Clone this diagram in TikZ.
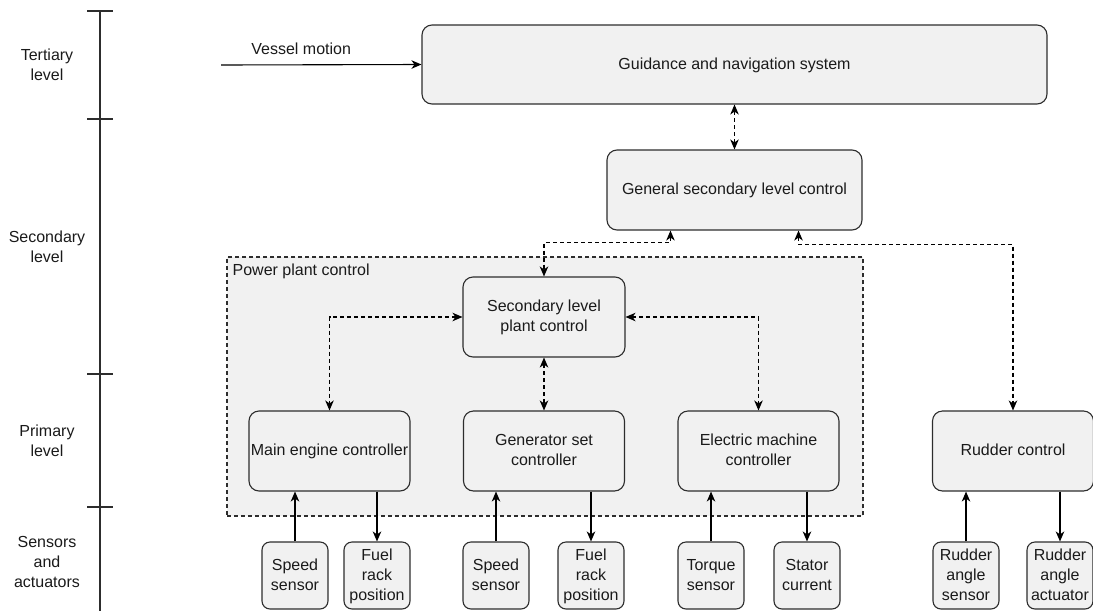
\documentclass[tikz,border=0pt]{standalone}
\usepackage{fontspec}
\setmainfont{Liberation Sans}
\usetikzlibrary{arrows.meta,positioning,calc}
\definecolor{boxgray}{RGB}{241,241,241}
\definecolor{edgegray}{RGB}{45,45,45}
\definecolor{txtgray}{RGB}{26,26,26}
\tikzset{
  blk/.style={draw=edgegray, line width=1.1pt, fill=boxgray, rounded corners=10pt, align=center, inner sep=0pt, text depth=2pt},
  sens/.style={blk, rounded corners=8pt, minimum width=66pt, minimum height=67pt},
  ctrl/.style={blk, minimum width=161pt, minimum height=80pt},
  conn/.style={line width=1.1pt, -{Stealth[length=10pt,width=8.5pt,inset=3pt]}},
  dconn/.style={line width=1.1pt, dash pattern=on 4pt off 3pt, {Stealth[length=10pt,width=8.5pt,inset=3pt]}-{Stealth[length=10pt,width=8.5pt,inset=3pt]}},
  lvl/.style={align=center}
}
\begin{document}
\begin{tikzpicture}[x=1pt, y=-1pt, font=\fontsize{16}{20}\selectfont, text=txtgray]
  \useasboundingbox (0,0) rectangle (1093,611);
  \draw[line width=1.1pt, color=edgegray] (100,11) -- (100,611);
  \foreach \y in {11,119,374,507}
    \draw[line width=1.5pt, color=edgegray] (87,\y) -- (113,\y);
  \node[lvl] (tert) at (47,65) {Tertiary\\level};
  \node[lvl] (seco) at (47,247) {Secondary\\level};
  \node[lvl] (prim) at (47,441) {Primary\\level};
  \node[lvl] (sena) at (47,562) {Sensors\\and\\actuators};

  \node[draw=edgegray, line width=1.1pt, dash pattern=on 4pt off 3pt, fill=boxgray, minimum width=636pt, minimum height=259pt, inner sep=0pt] (ppc) at (545,386.5) {};
  \node[anchor=north west, inner sep=0pt] (ppcl) at ($(ppc.north west)+(6,7)$) {Power plant control};

  \node[blk, minimum width=625pt, minimum height=79pt] (gns) at (734.5,64.5) {Guidance and navigation system};
  \node[blk, minimum width=255pt, minimum height=80pt] (gsc) at (734.5,190) {General secondary level control};
  \node[blk, minimum width=162pt, minimum height=80pt] (splc) at (544,317) {Secondary level\\plant control};
  \node[ctrl] (mec) at (329.5,451) {Main engine controller};
  \node[ctrl] (gen) at (544,451) {Generator set\\controller};
  \node[ctrl] (emc) at (758.5,451) {Electric machine\\controller};
  \node[ctrl] (rud) at (1013,451) {Rudder control};

  \node[sens] (ss1) at (295,575.5) {Speed\\sensor};
  \node[sens] (fr1) at (377,575.5) {Fuel\\rack\\position};
  \node[sens] (ss2) at (496,575.5) {Speed\\sensor};
  \node[sens] (fr2) at (591,575.5) {Fuel\\rack\\position};
  \node[sens] (tqs) at (711,575.5) {Torque\\sensor};
  \node[sens] (stc) at (807,575.5) {Stator\\current};
  \node[sens] (ras) at (966,575.5) {Rudder\\angle\\sensor};
  \node[sens] (raa) at (1060,575.5) {Rudder\\angle\\actuator};

  \coordinate (vm) at (221,65);
  \draw[conn] (vm) -- (gns.west) node[pos=0.4, above=6pt] (vml) {Vessel motion};

  \draw[dconn] (gns.south) -- (gsc.north);
  \draw[dconn] ($(gsc.south west)!.25!(gsc.south east)$) -- ++(0,12) -| (splc.north);
  \draw[dconn] ($(gsc.south west)!.75!(gsc.south east)$) -- ++(0,14) -| (rud.north);
  \draw[dconn] (splc.west) -| (mec.north);
  \draw[dconn] (splc.east) -| (emc.north);
  \draw[dconn] (splc.south) -- (gen.north);

  \draw[conn] (ss1.north) -- (ss1.north |- mec.south);
  \draw[conn] (fr1.north |- mec.south) -- (fr1.north);
  \draw[conn] (ss2.north) -- (ss2.north |- gen.south);
  \draw[conn] (fr2.north |- gen.south) -- (fr2.north);
  \draw[conn] (tqs.north) -- (tqs.north |- emc.south);
  \draw[conn] (stc.north |- emc.south) -- (stc.north);
  \draw[conn] (ras.north) -- (ras.north |- rud.south);
  \draw[conn] (raa.north |- rud.south) -- (raa.north);
\end{tikzpicture}
\end{document}
